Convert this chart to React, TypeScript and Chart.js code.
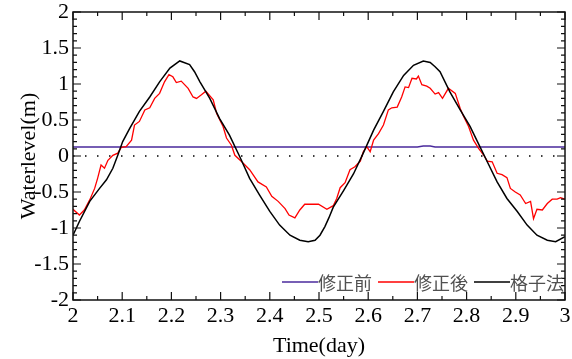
import React, { useEffect, useRef } from 'react';
import { Chart, registerables } from 'chart.js';

Chart.register(...registerables);

// ---- data ----
const legendLabels = ['修正前', '修正後', '格子法'];
const seriesColors = ['#4a2a9c', '#ff0000', '#000000'];

const xTickValues = [2, 2.1, 2.2, 2.3, 2.4, 2.5, 2.6, 2.7, 2.8, 2.9, 3];
const yTickValues = [-2, -1.5, -1, -0.5, 0, 0.5, 1, 1.5, 2];

const purpleTime = [2, 2.7, 2.712, 2.726, 2.736, 3];
const purpleLevel = [0.125, 0.125, 0.138, 0.138, 0.125, 0.125];

const blackTime = [
  2.0, 2.013, 2.034, 2.054, 2.068, 2.081, 2.091, 2.101, 2.115, 2.135, 2.156, 2.176, 2.197, 2.217, 2.237, 2.247,
  2.258, 2.278, 2.298, 2.318, 2.339, 2.359, 2.379, 2.4, 2.42, 2.441, 2.461, 2.478, 2.492, 2.502, 2.512, 2.52,
  2.529, 2.55, 2.57, 2.59, 2.611, 2.631, 2.651, 2.672, 2.692, 2.712, 2.726, 2.736, 2.746, 2.766, 2.787, 2.807,
  2.827, 2.842, 2.862, 2.882, 2.903, 2.923, 2.943, 2.964, 2.981, 3.0,
];
const blackLevel = [
  -1.1, -0.91, -0.63, -0.45, -0.33, -0.17, 0.01, 0.2, 0.38, 0.62, 0.82, 1.03, 1.22, 1.32, 1.27, 1.17,
  1.03, 0.8, 0.52, 0.29, -0.01, -0.31, -0.54, -0.77, -0.96, -1.1, -1.17, -1.19, -1.17, -1.1, -0.98, -0.86,
  -0.71, -0.48, -0.25, 0.04, 0.36, 0.62, 0.89, 1.12, 1.26, 1.32, 1.3, 1.24, 1.17, 0.89, 0.64, 0.41,
  0.13, -0.08, -0.36, -0.59, -0.77, -0.96, -1.1, -1.17, -1.19, -1.12,
];

const redTime = [
  2.0, 2.013, 2.023, 2.034, 2.044, 2.05, 2.057, 2.064, 2.071, 2.081, 2.091, 2.098, 2.108, 2.119, 2.125, 2.135,
  2.146, 2.156, 2.166, 2.176, 2.186, 2.195, 2.203, 2.21, 2.22, 2.234, 2.244, 2.251, 2.261, 2.27, 2.285, 2.292,
  2.305, 2.312, 2.322, 2.329, 2.343, 2.359, 2.376, 2.393, 2.404, 2.417, 2.431, 2.439, 2.451, 2.461, 2.471, 2.499,
  2.516, 2.529, 2.536, 2.543, 2.553, 2.563, 2.573, 2.584, 2.59, 2.597, 2.604, 2.611, 2.621, 2.631, 2.641, 2.648,
  2.659, 2.668, 2.675, 2.682, 2.689, 2.698, 2.702, 2.709, 2.719, 2.726, 2.736, 2.743, 2.751, 2.763, 2.777, 2.787,
  2.794, 2.804, 2.814, 2.824, 2.835, 2.842, 2.852, 2.862, 2.872, 2.882, 2.889, 2.899, 2.909, 2.92, 2.93, 2.936,
  2.943, 2.954, 2.964, 2.974, 2.984, 2.991, 3.0,
];
const redLevel = [
  -0.74, -0.82, -0.75, -0.61, -0.45, -0.31, -0.125, -0.17, -0.06, 0.01, 0.04, 0.12, 0.13, 0.22, 0.43, 0.48,
  0.64, 0.67, 0.8, 0.87, 1.03, 1.13, 1.1, 1.02, 1.04, 0.94, 0.82, 0.8, 0.85, 0.9, 0.78, 0.59,
  0.41, 0.25, 0.15, 0.01, -0.08, -0.19, -0.36, -0.43, -0.56, -0.63, -0.73, -0.82, -0.86, -0.75, -0.67, -0.67,
  -0.74, -0.69, -0.59, -0.44, -0.37, -0.19, -0.15, -0.07, 0.06, 0.13, 0.06, 0.22, 0.31, 0.43, 0.64, 0.67,
  0.68, 0.82, 0.96, 0.95, 1.08, 1.07, 1.11, 0.99, 0.97, 0.94, 0.86, 0.88, 0.8, 0.94, 0.87, 0.66,
  0.55, 0.41, 0.22, 0.11, 0.01, -0.07, -0.08, -0.24, -0.26, -0.3, -0.45, -0.5, -0.54, -0.66, -0.63, -0.87,
  -0.74, -0.75, -0.66, -0.6, -0.6, -0.58, -0.6,
];

const zeroTime = [2, 3];
const zeroLevel = [0, 0];

const toPoints = (t: number[], v: number[]) => t.map((x, i) => ({ x, y: v[i] }));

const SERIF = "'Liberation Serif', 'Times New Roman', serif";
const CJK = "'Noto Sans CJK JP', 'Noto Sans', sans-serif";

const frameAndLegend = {
  id: 'frameAndLegend',
  afterDatasetsDraw(chart: any) {
    const { ctx, chartArea, scales } = chart;
    const { left, right, top, bottom } = chartArea;
    const xs = scales.x;
    const ys = scales.y;
    ctx.save();
    // frame
    ctx.strokeStyle = '#111';
    ctx.lineWidth = 1.5;
    ctx.strokeRect(left, top, right - left, bottom - top);
    // ticks
    ctx.lineWidth = 1.2;
    ctx.beginPath();
    const xMin = xTickValues[0];
    const xMax = xTickValues[xTickValues.length - 1];
    for (let i = 0; i <= Math.round((xMax - xMin) / 0.05); i++) {
      const v = xMin + i * 0.05;
      const px = xs.getPixelForValue(v);
      const len = i % 2 === 0 ? 8 : 4;
      ctx.moveTo(px, bottom);
      ctx.lineTo(px, bottom - len);
      ctx.moveTo(px, top);
      ctx.lineTo(px, top + len);
    }
    const yMin = yTickValues[0];
    const yMax = yTickValues[yTickValues.length - 1];
    for (let i = 0; i <= Math.round((yMax - yMin) / 0.1); i++) {
      const v = yMin + i * 0.1;
      const py = ys.getPixelForValue(v);
      const len = i % 5 === 0 ? 8 : 4;
      ctx.moveTo(left, py);
      ctx.lineTo(left + len, py);
      ctx.moveTo(right, py);
      ctx.lineTo(right - len, py);
    }
    ctx.stroke();

    // legend (inside plot, bottom right)
    ctx.font = `18px ${CJK}`;
    ctx.textBaseline = 'middle';
    ctx.textAlign = 'left';
    const lineLen = 36;
    const gap = 6;
    const widths = legendLabels.map((l) => ctx.measureText(l).width);
    const total = widths.reduce((a, b) => a + b, 0) + legendLabels.length * lineLen + gap * (legendLabels.length - 1);
    let x = right - 1 - total;
    const ly = bottom - 18;
    legendLabels.forEach((label, i) => {
      ctx.strokeStyle = seriesColors[i];
      ctx.lineWidth = 1.5;
      ctx.beginPath();
      ctx.moveTo(x, ly);
      ctx.lineTo(x + lineLen, ly);
      ctx.stroke();
      x += lineLen;
      ctx.fillStyle = '#505050';
      ctx.fillText(label, x, ly + 1);
      x += widths[i] + gap;
    });
    ctx.restore();
  },
};

export default function App() {
  const ref = useRef<HTMLCanvasElement>(null);

  useEffect(() => {
    document.body.style.margin = '0';
    const canvas = ref.current;
    if (!canvas) return;
    const chart = new Chart(canvas, {
      type: 'line',
      data: {
        datasets: [
          {
            label: legendLabels[2],
            data: toPoints(blackTime, blackLevel),
            borderColor: seriesColors[2],
            borderWidth: 1.5,
            pointRadius: 0,
            fill: false,
          },
          {
            label: legendLabels[1],
            data: toPoints(redTime, redLevel),
            borderColor: seriesColors[1],
            borderWidth: 1.3,
            pointRadius: 0,
            fill: false,
          },
          {
            label: legendLabels[0],
            data: toPoints(purpleTime, purpleLevel),
            borderColor: seriesColors[0],
            borderWidth: 1.5,
            pointRadius: 0,
            fill: false,
          },
          {
            label: 'zero',
            data: toPoints(zeroTime, zeroLevel),
            borderColor: '#000',
            borderWidth: 1.3,
            borderDash: [1.5, 10.5],
            pointRadius: 0,
            fill: false,
          },
        ],
      },
      options: {
        animation: false,
        responsive: false,
        maintainAspectRatio: false,
        devicePixelRatio: 1,
        layout: { padding: { left: 0, right: 7, top: 12, bottom: 0 } },
        elements: { line: { tension: 0 }, point: { radius: 0 } },
        plugins: { legend: { display: false }, tooltip: { enabled: false } },
        scales: {
          x: {
            type: 'linear',
            min: 2,
            max: 3,
            afterBuildTicks: (s: any) => {
              s.ticks = xTickValues.map((value) => ({ value }));
            },
            afterFit: (s: any) => {
              s.height = 59;
              s.paddingLeft = 0;
              s.paddingRight = 0;
            },
            grid: { display: false, drawTicks: false },
            border: { display: false },
            ticks: {
              autoSkip: false,
              maxRotation: 0,
              padding: 3,
              color: '#000',
              font: { family: SERIF, size: 22 },
              callback: (v: any) => String(v),
            },
            title: {
              display: true,
              text: 'Time(day)',
              color: '#000',
              font: { family: SERIF, size: 22 },
              padding: { top: 0, bottom: 0 },
            },
          },
          y: {
            type: 'linear',
            min: -2,
            max: 2,
            afterBuildTicks: (s: any) => {
              s.ticks = yTickValues.map((value) => ({ value }));
            },
            afterFit: (s: any) => {
              s.width = 73;
              s.paddingTop = 0;
              s.paddingBottom = 0;
            },
            grid: { display: false, drawTicks: false },
            border: { display: false },
            ticks: {
              autoSkip: false,
              padding: 4,
              color: '#000',
              font: { family: SERIF, size: 22 },
              callback: (v: any) => String(v),
            },
            title: {
              display: true,
              text: 'Waterlevel(m)',
              color: '#000',
              font: { family: SERIF, size: 22 },
              padding: { top: 16, bottom: 0 },
            },
          },
        },
      },
      plugins: [frameAndLegend],
    } as any);
    return () => chart.destroy();
  }, []);

  return (
    <div style={{ position: 'absolute', left: 0, top: 0, width: 572, height: 359 }}>
      <canvas ref={ref} width={572} height={359} style={{ width: 572, height: 359, display: 'block' }} />
    </div>
  );
}
